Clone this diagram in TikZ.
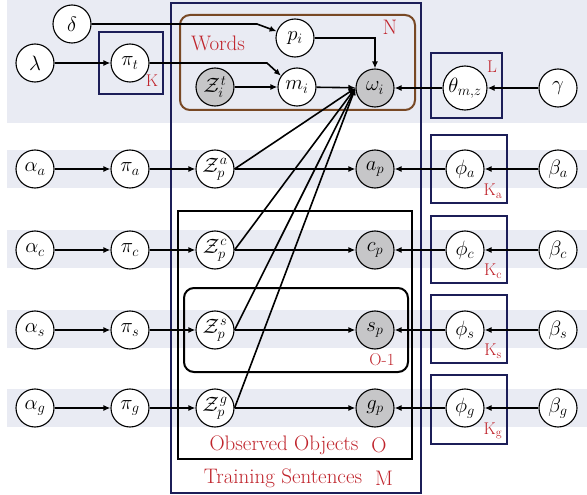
\documentclass[tikz,border=0pt]{standalone}
\usetikzlibrary{arrows.meta}
\definecolor{bandc}{RGB}{233,235,243}
\definecolor{navy}{RGB}{28,30,88}
\definecolor{brownc}{RGB}{120,72,36}
\definecolor{redc}{RGB}{192,36,44}
\definecolor{obsc}{RGB}{198,198,200}
\begin{document}
\begin{tikzpicture}[x=1pt,y=-1pt,
  var/.style={circle,draw=black,line width=1.1pt,fill=white,minimum size=38pt,inner sep=0pt,font=\fontsize{20}{22}\selectfont},
  obs/.style={var,fill=obsc},
  edge/.style={line width=1.6pt,-{Latex[length=7pt,width=6pt]}},
  plateb/.style={draw=navy,line width=2pt},
  lab/.style={text=redc,inner sep=0pt,font=\fontsize{21}{23}\selectfont},
  klab/.style={text=redc,inner sep=0pt,font=\fontsize{17}{19}\selectfont}]
\useasboundingbox (0,0) rectangle (587,495);
\fill[white] (0,0) rectangle (587,495);
\fill[bandc] (7,0) rectangle (587,123);
\foreach \y in {150,230,310,389} \fill[bandc] (7,\y) rectangle (587,\y+38);
% plates
\draw[navy,line width=2.4pt] (171,3) rectangle (421,493);
\draw[brownc,line width=2pt,rounded corners=10pt] (180,15) rectangle (415,110);
\draw[black,line width=2pt] (178,211) rectangle (412,459);
\draw[black,line width=2pt,rounded corners=10pt] (184,288) rectangle (408,372);
\draw[plateb] (99,32) rectangle (163,94);
\draw[plateb] (431,53) rectangle (502,118);
\draw[plateb] (431,135) rectangle (507,203);
\draw[plateb] (431,216) rectangle (507,283);
\draw[plateb] (431,295) rectangle (507,363);
\draw[plateb] (431,375) rectangle (507,444);
% plate labels
\node[lab] (lwords) at (218,43) {Words};
\node[lab] (lN) at (390,27) {N};
\node[klab] (lK) at (152,81) {K};
\node[klab] (lL) at (492,67) {L};
\node[klab] (lKa) at (493,191) {K$_\mathrm{a}$};
\node[klab] (lKc) at (493,271) {K$_\mathrm{c}$};
\node[klab] (lKs) at (493,351) {K$_\mathrm{s}$};
\node[klab] (lKg) at (493,431) {K$_\mathrm{g}$};
\node[klab] (lO1) at (382,360) {O-1};
\node[lab] (lobs) at (284,445) {Observed Objects};
\node[lab] (lO) at (379,445) {O};
\node[lab] (ltrain) at (283,478) {Training Sentences};
\node[lab] (lM) at (384,478) {M};
% nodes
\node[var] (delta) at (72,24) {$\delta$};
\node[var] (lambda) at (35,63) {$\lambda$};
\node[var] (pit) at (130,63) {$\pi_t$};
\node[var] (pi) at (295,38) {$p_i$};
\node[var] (mi) at (297,87) {$m_i$};
\node[obs] (zit) at (215,87) {$\mathcal{Z}^{\mkern1mu t}_{i}$};
\node[obs] (omega) at (375,88) {$\omega_i$};
\node[var,minimum size=44pt] (theta) at (465,88) {$\theta_{m,z}$};
\node[var] (gamma) at (558,88) {$\gamma$};
\foreach \s/\y in {a/169,c/250,s/330,g/408}{
  \node[var] (alpha\s) at (35,\y) {$\alpha_\s$};
  \node[var] (pi\s) at (130,\y) {$\pi_\s$};
  \node[var] (z\s) at (215,\y) {$\mathcal{Z}^{\mkern1mu\s}_{p}$};
  \node[obs] (x\s) at (375,\y) {$\s_p$};
  \node[var] (phi\s) at (465,\y) {$\phi_\s$};
  \node[var] (beta\s) at (558,\y) {$\beta_\s$};
}
% edges
\coordinate (dbend) at (257,24);
\coordinate (pbend) at (267,63);
\draw[edge] (delta) -- (dbend) -- (pi.160);
\draw[edge] (lambda) -- (pit);
\draw[edge] (pit) -- (pbend) -- (mi.145);
\draw[edge] (zit) -- (mi);
\draw[edge] (pi.east) -| (omega.north);
\draw[edge] (mi) -- (omega);
\draw[edge] (theta) -- (omega);
\draw[edge] (gamma) -- (theta);
\foreach \s in {a,c,s,g}{
  \draw[edge] (alpha\s) -- (pi\s);
  \draw[edge] (pi\s) -- (z\s);
  \draw[edge] (z\s) -- (x\s);
  \draw[edge] (phi\s) -- (x\s);
  \draw[edge] (beta\s) -- (phi\s);
  \draw[edge] (z\s.east) -- (omega.west);
}
\end{tikzpicture}
\end{document}
